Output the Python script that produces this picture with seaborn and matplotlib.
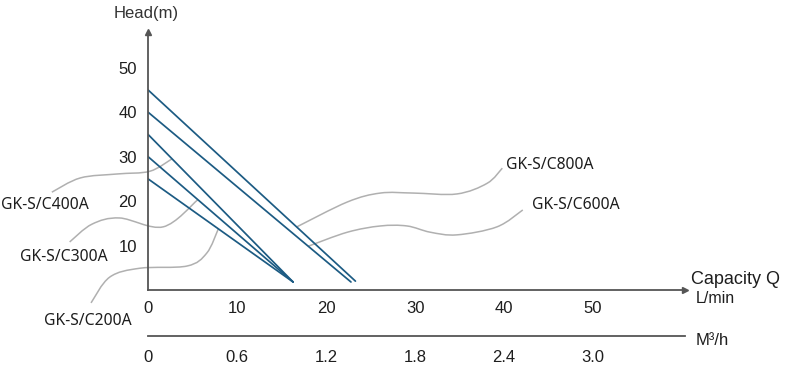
import matplotlib
matplotlib.use('Agg')
import matplotlib.pyplot as plt
import seaborn as sns
import pandas as pd
import numpy as np
from matplotlib.path import Path
from matplotlib.patches import PathPatch

# pump curves: straight line from shut-off head to max flow
models = ["GK-S/C200A", "GK-S/C300A", "GK-S/C400A", "GK-S/C600A", "GK-S/C800A"]
shutoff_head = [25, 30, 35, 40, 45]
max_flow = [16.3, 16.3, 16.3, 22.8, 23.3]
end_head = [1.8, 1.8, 1.8, 1.8, 2.0]

lmin_ticks = [0, 10, 20, 30, 40, 50]
m3h_ticks = [0, 0.6, 1.2, 1.8, 2.4, 3.0]
head_ticks = [10, 20, 30, 40, 50]

# where each label sits and the leader-line waypoints (data units)
label_pos = {
    "GK-S/C400A": (-6.6, 19.1, "right"),
    "GK-S/C300A": (-4.5, 7.4, "right"),
    "GK-S/C200A": (-1.8, -7.0, "right"),
    "GK-S/C800A": (40.2, 28.1, "left"),
    "GK-S/C600A": (43.1, 19.1, "left"),
}
leader_pts = {
    "GK-S/C400A": [(-10.8, 22.0), (-7.6, 25.2), (-3.4, 26.1), (0.2, 26.7)],
    "GK-S/C300A": [(-8.8, 10.8), (-6.3, 14.8), (-3.2, 16.2), (1.7, 14.2)],
    "GK-S/C200A": [(-6.4, -2.9), (-4.3, 2.9), (-0.9, 4.9), (4.4, 5.4), (6.6, 8.3)],
    "GK-S/C800A": [(39.8, 27.4), (38.1, 24.0), (34.7, 21.6), (29.8, 21.8), (26.1, 21.8), (22.4, 19.8)],
    "GK-S/C600A": [(42.1, 18.0), (39.2, 14.2), (34.7, 12.4), (31.7, 13.0), (29.1, 14.4), (26.1, 14.4), (22.4, 13.0)],
}
leader_q = {"GK-S/C200A": 7.9, "GK-S/C300A": 5.6, "GK-S/C400A": 2.7,
            "GK-S/C600A": 18.0, "GK-S/C800A": 16.7}

rows = []
for m, h0, qm, h1 in zip(models, shutoff_head, max_flow, end_head):
    rows.append({"model": m, "q": 0, "head": h0})
    rows.append({"model": m, "q": qm, "head": h1})
df = pd.DataFrame(rows)

sns.set_style("white")
plt.rcParams['font.family'] = ['Liberation Sans', 'DejaVu Sans']

line_col = "#1c5b83"
axis_col = "#555555"
lead_col = "#b0b0b0"
txt_col = "#1e1e1e"

fig = plt.figure(figsize=(8, 3.76), dpi=100)
ax = fig.add_axes([0.185, 0.2287, 0.671, 0.686])

sns.lineplot(data=df, x="q", y="head", hue="model", palette=[line_col] * 5,
             legend=False, linewidth=1.25, ax=ax)

ax.set_xlim(0, 60.3)
ax.set_ylim(0, 58)
ax.set_xticks(lmin_ticks)
ax.set_xticklabels([str(t) for t in lmin_ticks])
ax.set_yticks(head_ticks)
ax.set_yticklabels([str(t) for t in head_ticks])
ax.set_xlabel("")
ax.set_ylabel("")
for s in ["top", "right"]:
    ax.spines[s].set_visible(False)
for s in ["left", "bottom"]:
    ax.spines[s].set_color(axis_col)
    ax.spines[s].set_linewidth(1.3)
ax.tick_params(axis="both", colors=axis_col, length=4, width=1.1, labelsize=12,
               labelcolor=txt_col)
ax.tick_params(axis="x", pad=4)
ax.tick_params(axis="y", pad=4)

# arrow heads on axes
ax.plot(1, 0, ">", color=axis_col, markersize=4, transform=ax.transAxes, clip_on=False)
ax.plot(0, 1, "^", color=axis_col, markersize=4, transform=ax.transAxes, clip_on=False)

# second scale in m3/h
sec = ax.secondary_xaxis(-0.178, functions=(lambda q: q * 0.06, lambda m: m / 0.06))
sec.set_xticks(m3h_ticks)
sec.set_xticklabels(["0", "0.6", "1.2", "1.8", "2.4", "3.0"])
sec.spines["bottom"].set_color(axis_col)
sec.spines["bottom"].set_linewidth(1.3)
sec.tick_params(axis="x", length=0, pad=10, labelsize=12, labelcolor=txt_col)

ax.text(-0.2, 62.2, "Head(m)", ha="center", va="center", fontsize=12,
        color="#333333", clip_on=False)
ax.text(61.0, 2.3, "Capacity Q", ha="left", va="center", fontsize=13,
        color=txt_col, clip_on=False)
ax.text(61.5, -1.8, "L/min", ha="left", va="center", fontsize=11.5,
        color=txt_col, clip_on=False)
ax.text(61.5, -11.3, "M³/h", ha="left", va="center", fontsize=12,
        color=txt_col, clip_on=False)


def leader(pts):
    # catmull-rom through the waypoints, as cubic bezier segments
    p = [np.array(a, dtype=float) for a in pts]
    p = [p[0]] + p + [p[-1]]
    verts = [tuple(p[1])]
    codes = [Path.MOVETO]
    for i in range(1, len(p) - 2):
        c1 = p[i] + (p[i + 1] - p[i - 1]) / 6
        c2 = p[i + 1] - (p[i + 2] - p[i]) / 6
        verts += [tuple(c1), tuple(c2), tuple(p[i + 1])]
        codes += [Path.CURVE4] * 3
    return Path(verts, codes)


for m, h0, qm, h1 in zip(models, shutoff_head, max_flow, end_head):
    q = leader_q[m]
    h = h0 + (h1 - h0) * q / qm
    path = leader(leader_pts[m] + [(q, h)])
    ax.add_patch(PathPatch(path, facecolor="none", edgecolor=lead_col,
                           linewidth=1.1, clip_on=False, zorder=1))
    tx, ty, ha = label_pos[m]
    ax.text(tx, ty, m, ha=ha, va="center", fontsize=11.3, color=txt_col,
            family=["Noto Sans", "DejaVu Sans"], clip_on=False)

plt.savefig("out.png", dpi=100)
